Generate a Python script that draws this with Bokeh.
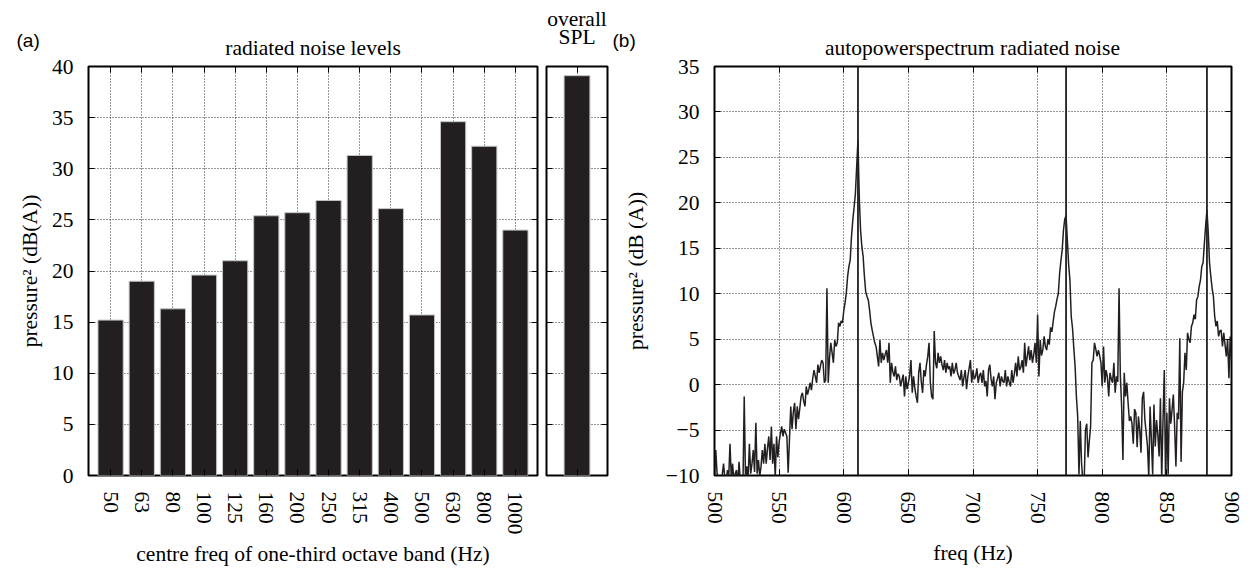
from bokeh.plotting import figure
from bokeh.models import Range1d, FixedTicker, LinearAxis, Span
from bokeh.core.properties import value
from bokeh.layouts import row, column
from bokeh.embed import file_html
from bokeh.resources import INLINE

# ---------------- data ----------------
BANDS = ["50", "63", "80", "100", "125", "160", "200", "250", "315", "400",
         "500", "630", "800", "1000"]
BAND_LEVELS = [15.2, 19.0, 16.3, 19.6, 21.0, 25.4, 25.7, 26.9, 31.3, 26.1,
               15.7, 34.6, 32.2, 24.0]
OVERALL_LEVEL = [39.1]

A_YTICKS = [0, 5, 10, 15, 20, 25, 30, 35, 40]
B_XTICKS = [500, 550, 600, 650, 700, 750, 800, 850, 900]
B_YTICKS = [-10, -5, 0, 5, 10, 15, 20, 25, 30, 35]

PEAK_MARKERS = [611, 772, 881]

SPEC_FREQ = list(range(500, 901))  # 1 Hz sampling grid
SPEC_LEVEL = [
    -10.5, -7.2, -9.8, -10.6, -10.1, -11.0, -9.9, -8.7, -10.3, -10.8,
    -9.4, -10.2, -6.5, -10.4, -8.7, -10.6, -9.8, -9.4, -10.9, -8.5,
    -10.7, -10.2, -11.1, -1.3, -10.5, -9.0, -10.3, -6.5, -9.8, -8.7,
    -7.2, -9.6, -4.2, -9.8, -8.3, -10.1, -9.0, -7.2, -8.7, -6.5,
    -8.7, -7.0, -5.7, -8.3, -4.6, -8.7, -6.5, -10.2, -5.7, -8.0,
    -6.3, -5.4, -4.6, -5.7, -4.9, -5.3, -5.7, -9.7, -6.0, -2.4,
    -4.9, -3.0, -2.0, -4.9, -2.4, -3.8, -2.6, -1.3, -0.9, -1.8,
    -2.4, -0.2, -1.1, -0.5, 0.2, -0.6, 0.7, 1.6, 0.9, 0.2,
    2.2, 1.3, 2.1, 2.7, 2.4, 0.2, 0.5, 10.6, 0.2, 3.0,
    4.6, 3.5, 2.4, 4.9, 4.2, 4.6, 6.8, 6.4, 7.0, 6.8,
    8.1, 9.0, 10.1, 11.9, 13.0, 13.7, 16.3, 18.1, 19.5, 21.0,
    24.0, 26.9, 20.7, 17.0, 15.2, 14.1, 11.9, 10.2, 9.7, 9.3,
    8.2, 6.8, 6.0, 5.3, 4.6, 4.2, 3.1, 2.0, 4.9, 2.4,
    3.5, 2.7, 3.3, 3.8, 2.4, 4.6, 0.2, 2.4, 1.4, 0.9,
    2.0, 0.5, 1.2, 0.9, -0.2, 0.5, 1.1, -1.3, 0.9, -0.5,
    0.2, 1.0, 2.7, -0.9, 0.9, -0.4, -1.3, -2.0, 1.3, 2.4,
    0.3, -0.9, 1.6, 0.9, 2.2, 3.1, 4.6, 0.2, -1.3, -1.6,
    5.9, 2.4, 1.8, 3.5, 2.4, 3.1, 2.2, 1.6, 2.7, 1.3,
    2.4, 1.7, 2.0, 0.9, 2.4, 1.2, 1.6, 2.4, 1.3, 0.9,
    0.5, 1.6, -0.2, 0.8, 1.6, -0.5, 0.9, 1.8, 2.7, 0.2,
    1.6, 0.6, 0.9, 1.8, 0.2, 1.0, 1.3, 0.2, 1.6, -0.2,
    0.4, -1.3, 1.6, 2.2, 0.6, -0.2, 0.9, -1.6, 0.2, 0.7,
    1.3, -0.2, 0.9, 0.4, 0.2, 1.6, -0.2, 0.9, 0.3, -0.2,
    1.6, 0.2, 1.2, 2.4, 0.9, 3.1, 1.6, 1.9, 2.7, 1.3,
    4.6, 2.0, 3.1, 4.2, 2.7, 3.8, 2.4, 3.3, 4.6, 2.4,
    7.7, 0.9, 4.9, 3.2, 3.8, 5.3, 4.2, 3.8, 5.0, 4.4,
    6.3, 5.8, 6.9, 8.0, 8.6, 9.4, 10.0, 12.2, 13.6, 14.8,
    17.0, 18.2, 18.6, 15.9, 13.2, 11.5, 7.5, 6.2, 4.0, 2.0,
    -1.3, -3.5, -9.9, -4.0, -8.7, -10.6, -10.8, -5.0, -4.3, -8.0,
    -6.2, -4.6, 2.4, 2.7, 4.6, 3.9, 3.1, 3.8, 3.2, 2.4,
    -0.2, 4.2, 0.2, 1.6, 0.8, -1.3, 1.3, 0.6, 0.2, 2.4,
    -0.9, 0.9, 0.3, 10.6, 1.0, -2.4, -8.3, 1.3, -1.3, 0.2,
    -2.0, -4.0, -3.5, -4.3, -6.5, -2.7, -3.1, -6.9, -3.5, -5.0,
    -7.5, -1.5, -0.8, -3.9, -5.3, -6.8, -10.2, -2.4, -6.0, -9.9,
    -2.2, -6.8, -3.9, -5.5, -7.9, -1.5, -10.4, -4.0, 1.6, -10.5,
    -3.1, -9.9, -1.5, -4.3, -2.8, -1.1, -4.6, -9.0, -3.1, -3.8,
    5.1, -8.5, -0.8, 0.2, 3.5, 1.6, 5.7, 5.0, 4.6, 6.4,
    6.8, 7.7, 7.2, 9.3, 9.7, 10.8, 11.5, 13.0, 13.4, 15.5,
    17.5, 19.2, 16.8, 13.4, 11.9, 10.6, 9.7, 7.5, 6.4, 7.0,
    5.3, 5.9, 6.0, 4.2, 5.7, 4.4, 3.1, 5.0, 0.7, 5.3,
    2.7,
]
assert len(SPEC_LEVEL) == len(SPEC_FREQ)

TITLE_A = "radiated noise levels"
TITLE_SPL = ["overall", "SPL"]
TITLE_B = "autopowerspectrum radiated noise"

# ---------------- style ----------------
SERIF = "Liberation Serif"
SANS = "Liberation Sans"
INK = "#231f20"
FS = "21.5px"
HEAD = 60            # header strip height
OVERLAP = 14         # plot row slides up under the header (both transparent)
H = 568 - HEAD + OVERLAP
TOP, BOTTOM = 66 - HEAD + OVERLAP, 92


def style(p, xticker, yticker, show_x=True, show_y=True):
    xb, yl = p.below[0], p.left[0]
    p.outline_line_color = "black"
    p.outline_line_width = 2
    p.background_fill_color = "white"
    p.border_fill_color = None
    for ax in (xb, yl):
        ax.axis_line_color = None
        ax.major_tick_in = 6
        ax.major_tick_out = 0
        ax.major_tick_line_color = "black"
        ax.minor_tick_line_color = None
        ax.major_label_text_font = SERIF
        ax.major_label_text_font_size = FS
        ax.major_label_text_color = "black"
        ax.axis_label_text_font = SERIF
        ax.axis_label_text_font_size = FS
        ax.axis_label_text_font_style = "normal"
        ax.axis_label_text_color = "black"
    xb.ticker = FixedTicker(ticks=xticker)
    yl.ticker = FixedTicker(ticks=yticker)
    p.xgrid.ticker = FixedTicker(ticks=xticker)
    p.ygrid.ticker = FixedTicker(ticks=yticker)
    for g in p.grid:
        g.grid_line_color = "#333333"
        g.grid_line_dash = "1 2"
        g.grid_line_width = 1
    hidden = []
    top = LinearAxis(ticker=FixedTicker(ticks=xticker))
    right = LinearAxis(ticker=FixedTicker(ticks=yticker))
    for ax in (top, right):
        ax.axis_line_color = None
        ax.major_tick_in = 6
        ax.major_tick_out = 0
        ax.major_tick_line_color = "black"
        ax.minor_tick_line_color = None
        hidden.append(ax)
    if not show_x:
        hidden.append(xb)
    if not show_y:
        hidden.append(yl)
    for ax in hidden:
        ax.major_label_text_font_size = "0px"
        ax.major_label_text_color = None
        ax.major_label_standoff = 0
    p.add_layout(top, "above")
    p.add_layout(right, "right")
    return xb, yl


# ---------------- header strip (panel letters and titles) ----------------
hd = figure(width=1251, height=HEAD, x_range=Range1d(0, 1251), y_range=Range1d(HEAD, 0),
            min_border=0, x_axis_location=None, y_axis_location=None,
            toolbar_location=None, output_backend="svg")
hd.outline_line_color = None
hd.background_fill_color = None
hd.border_fill_color = None
hd.grid.visible = False
hd.text(x=[16, 612], y=[40, 40], text=["(a)", "(b)"], text_font=value(SANS),
        text_font_size="19px", text_align="left", text_baseline="middle", text_color="black")
hd.text(x=[312.5, 972], y=[47, 47], text=[TITLE_A, TITLE_B], text_font=value(SERIF),
        text_font_size=FS, text_align="center", text_baseline="middle", text_color="black")
hd.text(x=[576.5, 576.5], y=[18, 36], text=TITLE_SPL, text_font=value(SERIF),
        text_font_size=FS, text_align="center", text_baseline="middle", text_color="black")

# ---------------- panel (a) ----------------
xs = list(range(len(BANDS)))
pa = figure(width=541, height=H, x_range=Range1d(-0.71, len(BANDS) - 0.29),
            y_range=Range1d(A_YTICKS[0], A_YTICKS[-1]),
            min_border_left=88, min_border_right=4, min_border_top=TOP,
            min_border_bottom=BOTTOM, toolbar_location=None, output_backend="svg")
xa, ya = style(pa, xs, A_YTICKS)
pa.vbar(x=xs, top=BAND_LEVELS, bottom=0, width=0.81, fill_color=INK,
        line_color="#c4c4c4", line_width=1)
xa.major_label_overrides = {i: b for i, b in enumerate(BANDS)}
xa.major_label_orientation = "vertical"
xa.major_label_standoff = 16
xa.axis_label = "centre freq of one-third octave band (Hz)"
xa.axis_label_standoff = 4
ya.major_label_standoff = 15
ya.axis_label = "pressure\u00b2 (dB(A))"
ya.axis_label_standoff = 7

# ---------------- overall SPL ----------------
ps = figure(width=79, height=H, x_range=Range1d(-0.98, 0.98),
            y_range=Range1d(A_YTICKS[0], A_YTICKS[-1]),
            min_border_left=5, min_border_right=13, min_border_top=TOP,
            min_border_bottom=BOTTOM, toolbar_location=None, output_backend="svg")
style(ps, [0], A_YTICKS, show_x=False, show_y=False)
ps.vbar(x=[0], top=OVERALL_LEVEL, bottom=0, width=0.83, fill_color=INK,
        line_color="#c4c4c4", line_width=1)

# ---------------- panel (b) ----------------
pb = figure(width=631, height=H, x_range=Range1d(B_XTICKS[0], B_XTICKS[-1]),
            y_range=Range1d(B_YTICKS[0], B_YTICKS[-1]),
            min_border_left=93, min_border_right=20, min_border_top=TOP,
            min_border_bottom=BOTTOM, toolbar_location=None, output_backend="svg")
xb_, yb_ = style(pb, B_XTICKS, B_YTICKS)
pb.line(SPEC_FREQ, SPEC_LEVEL, line_color=INK, line_width=1.5)
for f in PEAK_MARKERS:
    pb.add_layout(Span(location=f, dimension="height", line_color=INK, line_width=1.8))
xb_.major_label_orientation = "vertical"
xb_.major_label_standoff = 16
xb_.axis_label = "freq (Hz)"
xb_.axis_label_standoff = 14
yb_.major_label_standoff = 15
yb_.axis_label = "pressure\u00b2 (dB (A))"
yb_.axis_label_standoff = 15

plots = row(pa, ps, pb, margin=(-OVERLAP, 0, 0, 0))
layout = column(hd, plots)
open("out.html", "w").write(file_html(layout, INLINE))
